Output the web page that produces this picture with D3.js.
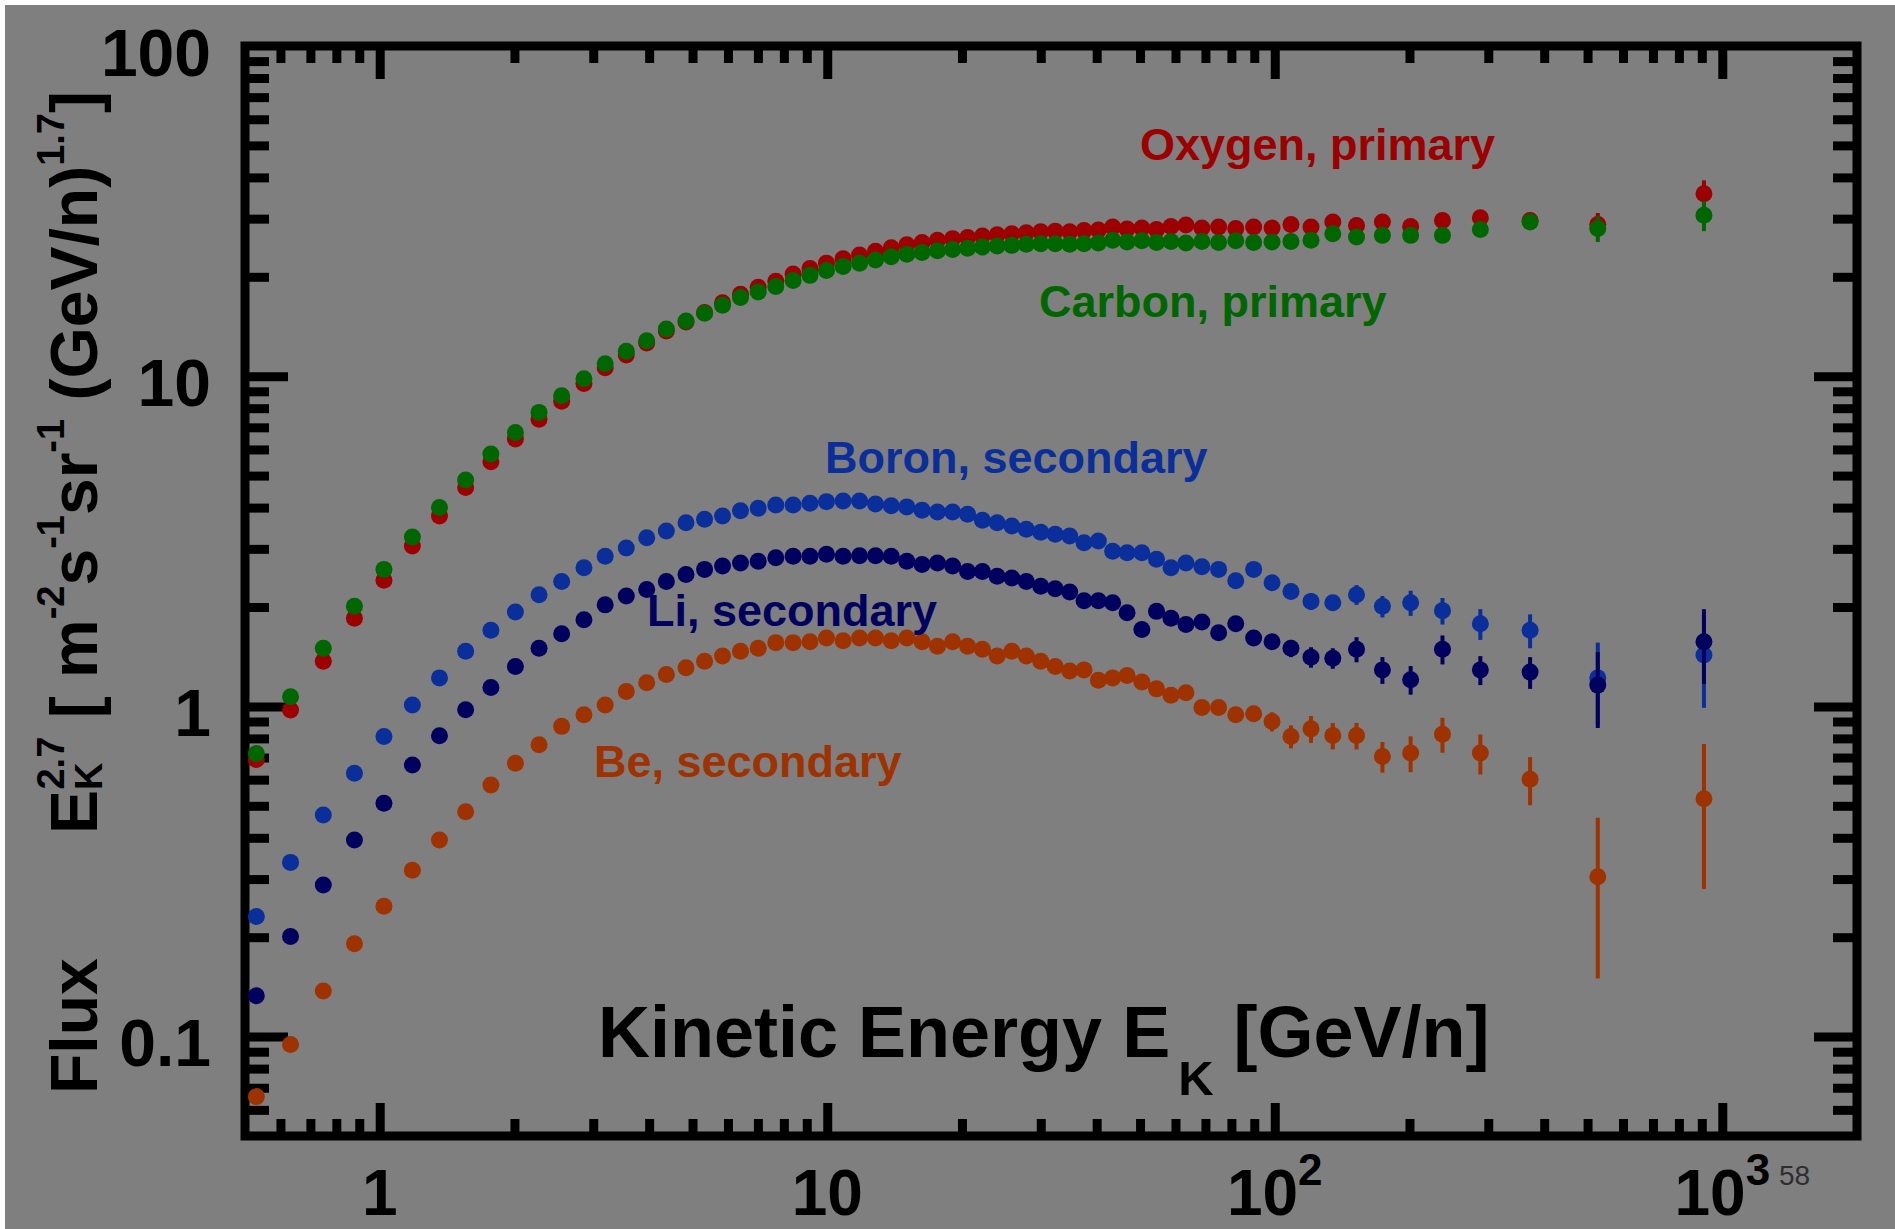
<!DOCTYPE html>
<html>
<head>
<meta charset="utf-8">
<script src="https://cdn.jsdelivr.net/npm/d3@7"></script>
<style>
  html, body { margin: 0; padding: 0; background: #ffffff; }
  svg { display: block; }
  text { font-family: "Liberation Sans", Arial, Helvetica, sans-serif; font-weight: bold; }
</style>
</head>
<body>
<svg id="chart" width="1895" height="1229"></svg>
<script>
// Kinetic energy per nucleon of each bin [GeV/n]
const energy = [
  0.530, 0.632, 0.748, 0.878, 1.022, 1.183, 1.360, 1.556, 1.772, 2.010,
  2.270, 2.550, 2.860, 3.190, 3.556, 3.950, 4.370, 4.835, 5.320, 5.835,
  6.400, 7.010, 7.675, 8.390, 9.150, 9.960, 10.85, 11.81, 12.82, 13.90,
  15.06, 16.29, 17.63, 19.06, 20.59, 22.22, 23.97, 25.85, 27.85, 30.00,
  32.32, 34.82, 37.48, 40.35, 43.43, 46.77, 50.47, 54.42, 58.63, 63.32,
  68.74, 74.91, 81.82, 89.71, 98.60, 108.7, 120.5, 134.8, 152.3, 174.0,
  201.2, 237.0, 288.0, 372.0, 527.0, 910.0
];

// Flux x E^2.7 for each species
const oxygen = [
  0.690, 0.975, 1.37, 1.85, 2.41, 3.06, 3.77, 4.60, 5.51, 6.45,
  7.41, 8.40, 9.50, 10.6, 11.6, 12.6, 13.7, 14.6, 15.6, 16.7,
  17.7, 18.6, 19.4, 20.4, 21.2, 22.0, 22.7, 23.3, 23.9, 24.5,
  25.0, 25.4, 25.8, 26.1, 26.3, 26.6, 26.8, 27.0, 27.2, 27.4,
  27.5, 27.4, 27.6, 27.7, 28.3, 27.9, 28.1, 27.8, 28.4, 28.7,
  28.1, 28.3, 28.0, 28.3, 28.1, 28.8, 28.3, 29.3, 28.6, 29.3,
  28.4, 29.6, 30.2, 29.6, 28.8, 35.7
];
const carbon = [
  0.720, 1.07, 1.50, 2.01, 2.60, 3.26, 4.00, 4.85, 5.81, 6.75,
  7.77, 8.73, 9.83, 10.9, 11.9, 12.8, 13.9, 14.7, 15.5, 16.4,
  17.3, 18.0, 18.7, 19.5, 20.2, 20.9, 21.5, 22.0, 22.5, 23.0,
  23.4, 23.7, 24.0, 24.2, 24.4, 24.6, 24.8, 24.9, 25.1, 25.2,
  25.2, 25.1, 25.2, 25.3, 25.8, 25.5, 25.7, 25.4, 25.6, 25.3,
  25.6, 25.4, 25.7, 25.4, 25.5, 25.6, 25.8, 27.0, 26.4, 26.7,
  26.7, 26.7, 27.8, 29.3, 28.0, 30.7
];
const boron = [
  0.231, 0.337, 0.469, 0.627, 0.811, 1.01, 1.22, 1.47, 1.70, 1.93,
  2.18, 2.39, 2.63, 2.85, 3.02, 3.24, 3.40, 3.60, 3.69, 3.77,
  3.91, 3.98, 4.07, 4.07, 4.12, 4.17, 4.19, 4.19, 4.10, 4.05,
  4.02, 3.93, 3.88, 3.88, 3.82, 3.66, 3.60, 3.52, 3.44, 3.37,
  3.32, 3.28, 3.13, 3.17, 2.95, 2.92, 2.92, 2.79, 2.63, 2.72,
  2.65, 2.60, 2.40, 2.60, 2.37, 2.23, 2.08, 2.06, 2.18, 2.01,
  2.06, 1.95, 1.78, 1.70, 1.22, 1.43
];
const lithium = [
  0.133, 0.201, 0.288, 0.394, 0.509, 0.665, 0.815, 0.977, 1.14, 1.32,
  1.50, 1.66, 1.83, 2.03, 2.16, 2.26, 2.39, 2.51, 2.60, 2.66,
  2.72, 2.75, 2.82, 2.85, 2.85, 2.89, 2.85, 2.86, 2.86, 2.85,
  2.75, 2.69, 2.72, 2.66, 2.56, 2.56, 2.48, 2.45, 2.39, 2.31,
  2.27, 2.22, 2.09, 2.09, 2.06, 1.92, 1.71, 1.94, 1.85, 1.77,
  1.80, 1.67, 1.78, 1.61, 1.57, 1.50, 1.41, 1.40, 1.49, 1.29,
  1.205, 1.49, 1.29, 1.27, 1.16, 1.57
];
const beryllium = [
  0.0658, 0.0947, 0.1375, 0.191, 0.248, 0.319, 0.394, 0.480, 0.578, 0.673,
  0.765, 0.870, 0.943, 1.01, 1.11, 1.18, 1.25, 1.31, 1.37, 1.42,
  1.47, 1.50, 1.56, 1.56, 1.57, 1.61, 1.58, 1.61, 1.61, 1.58,
  1.61, 1.57, 1.52, 1.57, 1.52, 1.49, 1.42, 1.47, 1.42, 1.37,
  1.32, 1.28, 1.29, 1.20, 1.22, 1.24, 1.185, 1.13, 1.08, 1.10,
  0.993, 0.993, 0.943, 0.950, 0.900, 0.811, 0.855, 0.816, 0.816, 0.705,
  0.722, 0.824, 0.722, 0.602, 0.305, 0.525
];

// Symmetric uncertainties (same units as the fluxes)
const oxygenErr = [
  0,0,0,0,0,0,0,0,0,0, 0,0,0,0,0,0,0,0,0,0,
  0,0,0,0,0,0,0,0,0,0, 0,0,0,0,0,0,0,0,0,0,
  0,0,0,0,0,0,0,0,0,0, 0,0,0,0,0,0.6,0.6,0.6,0.6,0.6,
  0.6,0.7,0.9,1.1,2.4,3.5
];
const carbonErr = [
  0,0,0,0,0,0,0,0,0,0, 0,0,0,0,0,0,0,0,0,0,
  0,0,0,0,0,0,0,0,0,0, 0,0,0,0,0,0,0,0,0,0,
  0,0,0,0,0,0,0,0,0,0, 0,0,0,0,0,0.5,0.5,0.5,0.5,0.5,
  0.5,0.6,0.8,1.0,2.5,3.2
];
const boronErr = [
  0,0,0,0,0,0,0,0,0,0, 0,0,0,0,0,0,0,0,0,0,
  0,0,0,0,0,0,0,0,0,0, 0,0,0,0,0,0,0,0,0,0,
  0,0,0,0,0.05,0.05,0.05,0.06,0.06,0.07, 0.07,0.08,0.08,0.09,0.10,0.11,0.12,0.11,0.15,0.15,
  0.18,0.18,0.19,0.20,0.34,0.44
];
const lithiumErr = [
  0,0,0,0,0,0,0,0,0,0, 0,0,0,0,0,0,0,0,0,0,
  0,0,0,0,0,0,0,0,0,0, 0,0,0,0,0,0,0,0,0,0,
  0,0,0,0,0.04,0.04,0.05,0.05,0.05,0.06, 0.06,0.06,0.07,0.07,0.08,0.09,0.10,0.10,0.13,0.12,
  0.12,0.15,0.13,0.14,0.30,0.40
];
const berylliumErr = [
  0,0,0,0,0,0,0,0,0,0, 0,0,0,0,0,0,0,0,0,0,
  0,0,0,0,0,0,0,0,0,0, 0,0,0,0,0,0,0,0,0,0,
  0,0,0,0,0.025,0.025,0.03,0.03,0.03,0.035, 0.04,0.04,0.045,0.05,0.06,0.065,0.08,0.075,0.075,0.075,
  0.09,0.10,0.10,0.10,0.155,0.245
];

// Axis decades and their labels
const xMajor = [1, 10, 100, 1000];
const xLabelBase = ["1", "10", "10", "10"];
const xLabelExp = ["", "", "2", "3"];
const yMajor = [0.1, 1, 10, 100];
const yLabels = ["0.1", "1", "10", "100"];

const seriesNames = ["Oxygen, primary", "Carbon, primary", "Boron, secondary", "Li, secondary", "Be, secondary"];
const seriesColors = ["#9c0000", "#006600", "#0a2e9a", "#00005e", "#9e3200"];

// Drawing order: oxygen under carbon, then the secondaries
const series = [
  { values: oxygen,    errors: oxygenErr,    color: seriesColors[0] },
  { values: carbon,    errors: carbonErr,    color: seriesColors[1] },
  { values: boron,     errors: boronErr,     color: seriesColors[2] },
  { values: lithium,   errors: lithiumErr,   color: seriesColors[3] },
  { values: beryllium, errors: berylliumErr, color: seriesColors[4] }
];

const svg = d3.select("#chart");
svg.append("rect").attr("x", 5).attr("y", 5).attr("width", 1890).attr("height", 1224).attr("fill", "#7f7f7f");

const x = d3.scaleLog().domain([0.5, 2000]).range([245, 1857]);
const y = d3.scaleLog().domain([0.05, 100]).range([1136, 46]);

// tick positions: 1..9 times each decade inside the domain
function logTicks(lo, hi) {
  const out = [];
  for (let e = -3; e <= 4; e++) {
    for (let m = 1; m <= 9; m++) {
      const v = +(m * Math.pow(10, e)).toPrecision(3);
      if (v > lo * 1.0001 && v < hi * 0.9999) out.push(v);
    }
  }
  return out;
}
const isMajor = v => Math.abs(Math.log10(v) - Math.round(Math.log10(v))) < 1e-6;
const xTicks = logTicks(0.5, 2000);
const yTicks = logTicks(0.05, 100);

const X_MINOR = 17, X_MAJOR = 33, Y_MINOR = 24, Y_MAJOR = 43, TICK_W = 9;

function styleAxis(g, horizontal, sign) {
  g.select(".domain").remove();
  g.selectAll(".tick text").remove();
  g.selectAll(".tick line")
    .attr("stroke", "#000")
    .attr("stroke-width", TICK_W)
    .each(function (d) {
      const len = horizontal ? (isMajor(d) ? X_MAJOR : X_MINOR) : (isMajor(d) ? Y_MAJOR : Y_MINOR);
      d3.select(this).attr(horizontal ? "y2" : "x2", sign * len);
    });
}

svg.append("g").attr("transform", "translate(0,1136)")
  .call(d3.axisBottom(x).tickValues(xTicks).tickSizeOuter(0))
  .call(g => styleAxis(g, true, -1));
svg.append("g").attr("transform", "translate(0,46)")
  .call(d3.axisTop(x).tickValues(xTicks).tickSizeOuter(0))
  .call(g => styleAxis(g, true, 1));
svg.append("g").attr("transform", "translate(245,0)")
  .call(d3.axisLeft(y).tickValues(yTicks).tickSizeOuter(0))
  .call(g => styleAxis(g, false, 1));
svg.append("g").attr("transform", "translate(1857,0)")
  .call(d3.axisRight(y).tickValues(yTicks).tickSizeOuter(0))
  .call(g => styleAxis(g, false, -1));

// frame
svg.append("rect")
  .attr("x", x.range()[0]).attr("y", y.range()[1])
  .attr("width", x.range()[1] - x.range()[0])
  .attr("height", y.range()[0] - y.range()[1])
  .attr("fill", "none").attr("stroke", "#000").attr("stroke-width", 9);

// y tick labels
svg.append("g").selectAll("text").data(yMajor).join("text")
  .attr("x", 211).attr("y", d => y(d) + 29.5)
  .attr("text-anchor", "end").attr("font-size", 66).attr("fill", "#000")
  .text((d, i) => yLabels[i]);

// x tick labels
const xl = svg.append("g").selectAll("text").data(xMajor).join("text")
  .attr("x", d => x(d)).attr("y", 1215)
  .attr("text-anchor", "middle").attr("font-size", 64).attr("fill", "#000");
xl.append("tspan").text((d, i) => xLabelBase[i]);
xl.append("tspan").attr("font-size", 44).attr("dy", -30).text((d, i) => xLabelExp[i]);

// data: error bars then markers
series.forEach(s => {
  const g = svg.append("g");
  const pts = energy.map((e, i) => ({ e, v: s.values[i], err: s.errors[i] }));
  g.selectAll("line").data(pts.filter(p => p.err > 0)).join("line")
    .attr("x1", p => x(p.e)).attr("x2", p => x(p.e))
    .attr("y1", p => y(p.v + p.err)).attr("y2", p => y(Math.max(p.v - p.err, 0.051)))
    .attr("stroke", s.color).attr("stroke-width", 4);
  g.selectAll("circle").data(pts).join("circle")
    .attr("cx", p => x(p.e)).attr("cy", p => y(p.v)).attr("r", 8.5)
    .attr("fill", s.color);
});

// series annotations
const notes = [
  { x: 1140, y: 160 }, { x: 1039, y: 317 }, { x: 825, y: 473 }, { x: 647, y: 626 }, { x: 594, y: 777 }
];
svg.append("g").selectAll("text").data(notes).join("text")
  .attr("x", d => d.x).attr("y", d => d.y).attr("font-size", 45)
  .attr("fill", (d, i) => seriesColors[i])
  .text((d, i) => seriesNames[i]);

// x axis title
const xt = svg.append("text").attr("x", 598).attr("y", 1057).attr("font-size", 72).attr("fill", "#000");
xt.append("tspan").text("Kinetic Energy E");
xt.append("tspan").attr("font-size", 49).attr("dx", 8).attr("dy", 38).text("K");
xt.append("tspan").attr("font-size", 72).attr("dy", -38).text(" [GeV/n]");

// y axis title (rotated)
svg.append("text").attr("transform", "translate(97,1094) rotate(-90)")
  .attr("font-size", 66).attr("fill", "#000").text("Flux");
const yt = svg.append("text").attr("transform", "translate(97,834) rotate(-90)")
  .attr("font-size", 66).attr("fill", "#000");
const parts = [
  ["E", 66, 0, 0], ["K", 38, 0, 5], ["2.7", 38, -27, -38], [" [ m", 66, 0, 33],
  ["-2", 38, 0, -33], ["s", 66, 0, 33], ["-1", 38, 0, -33], ["sr", 66, 0, 33],
  ["-1", 38, 0, -33], [" (GeV/n)", 66, 0, 33], ["1.7", 38, 0, -33], ["]", 66, 0, 33]
];
parts.forEach(([t, fs, dx, dy]) => {
  yt.append("tspan").attr("font-size", fs).attr("dx", dx).attr("dy", dy)
    .style("white-space", "pre").text(t);
});

// page number
svg.append("text").attr("x", 1779).attr("y", 1185).attr("font-size", 28)
  .style("font-weight", "normal").attr("fill", "#2e2e2e").text("58");
</script>
</body>
</html>
